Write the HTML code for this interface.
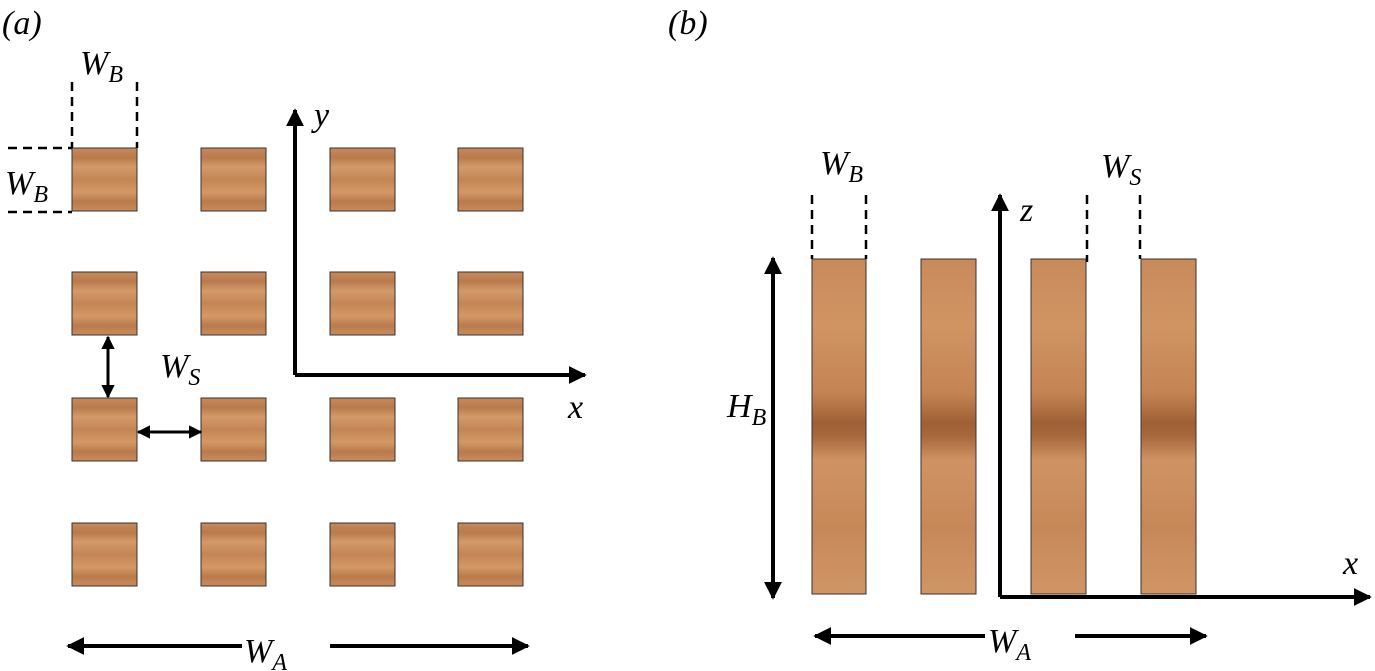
<!DOCTYPE html><html><head><style>body{margin:0;background:#fff}svg{display:block}text{font-family:"Liberation Serif",serif;font-style:italic;fill:#000}</style></head><body>
<svg width="1375" height="671" viewBox="0 0 1375 671" xmlns="http://www.w3.org/2000/svg">
<defs>
<linearGradient id="w" x1="0" y1="0" x2="0" y2="1">
<stop offset="0" stop-color="#c98a5a"/><stop offset="0.15" stop-color="#b87a4c"/><stop offset="0.3" stop-color="#d49a6a"/><stop offset="0.5" stop-color="#c48555"/><stop offset="0.7" stop-color="#d39866"/><stop offset="0.85" stop-color="#b97b4d"/><stop offset="1" stop-color="#c98b5b"/>
</linearGradient>
<linearGradient id="b" x1="0" y1="0" x2="0" y2="1">
<stop offset="0" stop-color="#c98a5a"/><stop offset="0.2" stop-color="#d09463"/><stop offset="0.4" stop-color="#c48353"/><stop offset="0.49" stop-color="#9e6034"/><stop offset="0.53" stop-color="#a8693c"/><stop offset="0.6" stop-color="#cf9363"/><stop offset="0.8" stop-color="#c78858"/><stop offset="1" stop-color="#d09565"/>
</linearGradient>
<marker id="a" viewBox="0 0 10 10" refX="9" refY="5" markerWidth="4.5" markerHeight="4.5" orient="auto-start-reverse"><path d="M0,0L10,5L0,10z" fill="#000"/></marker>
</defs>
<g fill="url(#w)" stroke="#333" stroke-width="1">
<rect x="72" y="148" width="65" height="63"/><rect x="201" y="148" width="65" height="63"/><rect x="330" y="148" width="65" height="63"/><rect x="458" y="148" width="65" height="63"/>
<rect x="72" y="272" width="65" height="63"/><rect x="201" y="272" width="65" height="63"/><rect x="330" y="272" width="65" height="63"/><rect x="458" y="272" width="65" height="63"/>
<rect x="72" y="398" width="65" height="63"/><rect x="201" y="398" width="65" height="63"/><rect x="330" y="398" width="65" height="63"/><rect x="458" y="398" width="65" height="63"/>
<rect x="72" y="523" width="65" height="63"/><rect x="201" y="523" width="65" height="63"/><rect x="330" y="523" width="65" height="63"/><rect x="458" y="523" width="65" height="63"/>
</g>
<g fill="url(#b)" stroke="#333" stroke-width="1">
<rect x="812" y="259" width="54" height="335"/><rect x="921" y="259" width="55" height="335"/><rect x="1031" y="259" width="55" height="335"/><rect x="1141" y="259" width="55" height="335"/>
</g>
<g stroke="#000" stroke-width="2.5" stroke-dasharray="9,6" fill="none">
<path d="M72 82V148M137 82V148M8 148H72M8 212H72"/>
<path d="M812 195V259M866 195V259M1087 195V262M1140 195V259"/>
</g>
<g stroke="#000" stroke-width="4" fill="none">
<path d="M295 375V110" marker-end="url(#a)"/><path d="M295 375H585" marker-end="url(#a)"/>
<path d="M1000 597V195" marker-end="url(#a)"/><path d="M1000 597H1370" marker-end="url(#a)"/>
<path d="M242 646H68" marker-end="url(#a)"/><path d="M330 646H528" marker-end="url(#a)"/>
<path d="M985 636H815" marker-end="url(#a)"/><path d="M1075 636H1206" marker-end="url(#a)"/>
<path d="M773 258V598" marker-start="url(#a)" marker-end="url(#a)"/>
</g>
<g stroke="#000" stroke-width="3" fill="none">
<path d="M108 337V397" marker-start="url(#a)" marker-end="url(#a)"/>
<path d="M138 432H201" marker-start="url(#a)" marker-end="url(#a)"/>
</g>
<g font-size="34">
<text x="2" y="34">(a)</text><text x="668" y="34">(b)</text>
<text x="314" y="126">y</text><text x="568" y="418">x</text>
<text x="1020" y="221">z</text><text x="1343" y="574">x</text>
<text x="80" y="74">W<tspan font-size="24" dy="8">B</tspan></text>
<text x="5" y="194">W<tspan font-size="24" dy="8">B</tspan></text>
<text x="160" y="377">W<tspan font-size="24" dy="8">S</tspan></text>
<text x="244" y="662">W<tspan font-size="24" dy="8">A</tspan></text>
<text x="820" y="174">W<tspan font-size="24" dy="8">B</tspan></text>
<text x="1101" y="177">W<tspan font-size="24" dy="8">S</tspan></text>
<text x="727" y="417">H<tspan font-size="24" dy="8">B</tspan></text>
<text x="988" y="652">W<tspan font-size="24" dy="8">A</tspan></text>
</g>
</svg>
</body></html>
